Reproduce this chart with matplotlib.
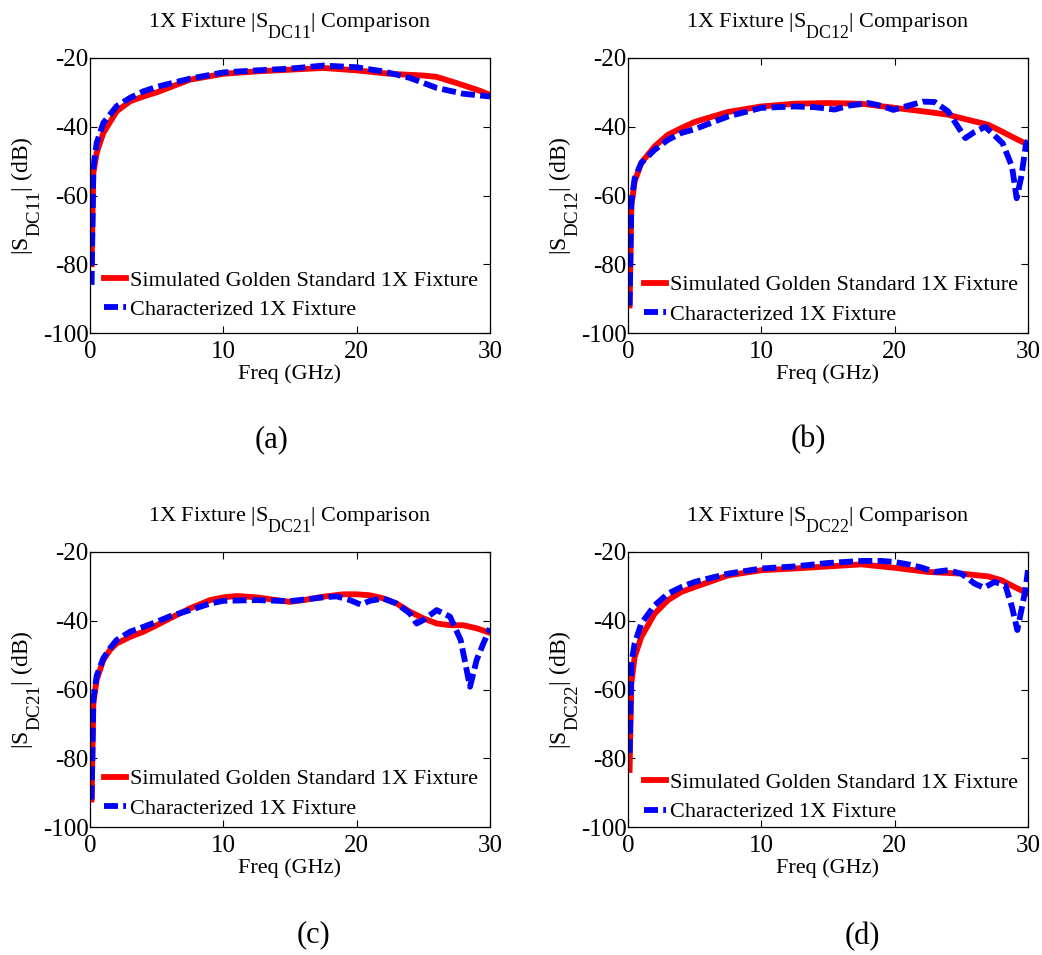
import numpy as np
import matplotlib
matplotlib.use("Agg")
import matplotlib.pyplot as plt
import matplotlib._mathtext as mtext

plt.rcParams.update({
    "font.family": "Liberation Serif",
    "mathtext.fontset": "custom",
    "mathtext.rm": "Liberation Serif",
    "mathtext.it": "Liberation Serif:italic",
    "font.size": 16,
    "axes.unicode_minus": False,
})
# subscripts in the reference are large and sit well below the baseline
mtext.SHRINK_FACTOR = 0.8
mtext.FontConstantsBase.sub1 = 1.1

# ---- data (Freq in GHz, magnitude in dB) ----
params = ["DC11", "DC12", "DC21", "DC22"]
panel_tags = ["(a)", "(b)", "(c)", "(d)"]

f_a_sim = [0.12, 0.25, 0.5, 1, 2, 3, 4, 5, 7.5, 10, 12.5, 15, 17.5, 20, 22.5, 25, 26, 27.5, 29, 30]
s11_sim = [-80, -53.5, -47.6, -41.8, -35.5, -32.6, -31.2, -30, -26.3, -24.6, -23.9, -23.4, -22.9,
           -23.6, -24.6, -25.1, -25.5, -27.3, -29.2, -30.7]
f_a_chr = [0.12, 0.25, 0.5, 1, 2, 3, 4, 5, 7.5, 10, 12.5, 15, 17.5, 20, 22, 24, 26, 28, 30]
s11_chr = [-86, -52, -44.7, -38.9, -34, -31.6, -29.7, -28.4, -26, -24.2, -23.6, -23.1, -22.2,
           -22.7, -23.9, -25.8, -28.7, -30.4, -31.2]

f_b_sim = [0.12, 0.25, 0.5, 1, 2, 3, 4, 5, 7.5, 10, 12.5, 15, 17.5, 20, 22.5, 24, 25, 27, 28, 29, 30]
s12_sim = [-92, -63, -55.9, -50.5, -45.7, -42.3, -40.4, -38.6, -35.7, -34.1, -33.3, -33.1, -33.3,
           -34.5, -35.7, -36.5, -37.5, -39.4, -41.3, -43.3, -45.2]
f_b_chr = [0.12, 0.25, 0.5, 1, 2, 3, 4, 5, 7.5, 10, 12.5, 14, 15.5, 16.5, 18, 19, 19.9, 21, 22.1,
           23, 24, 25.3, 26, 26.8, 28.1, 28.8, 29.15, 29.5, 29.85, 30]
s12_chr = [-92, -62, -55, -50.5, -46.7, -43.8, -41.8, -40.7, -37, -34.5, -34.1, -34.3, -35, -33.9,
           -33.1, -33.9, -35.1, -33.9, -32.7, -32.8, -35.5, -43.3, -41.5, -40, -44.8, -51.6, -60.8,
           -54.5, -45, -44]

f_c_sim = [0.12, 0.25, 0.5, 1, 1.5, 2, 3, 4, 5, 6, 7.5, 9, 10, 11, 12.5, 14, 15, 16, 17.5, 19, 20,
           21, 22, 23, 24, 25, 26, 27, 28, 29, 30]
s21_sim = [-92, -64, -57.2, -51.4, -48.5, -46.6, -44.7, -43.2, -41.3, -39.3, -36.4, -34, -33.2,
           -32.8, -33.2, -34, -34.5, -34, -33, -32.3, -32.3, -32.6, -33.5, -35, -37.4, -39.3, -40.8,
           -41.3, -41.3, -42.2, -43.5]
f_c_chr = [0.12, 0.25, 0.5, 1, 1.5, 2, 3, 4, 5, 6, 7.5, 9, 10, 12.5, 15, 17.5, 18.5, 19.5, 20.3,
           21, 22, 23, 24, 24.5, 25, 26, 27, 27.8, 28.5, 29, 29.5, 30]
s21_chr = [-92, -63, -56, -50.9, -48, -45.6, -43.2, -41.8, -40.3, -38.7, -36.9, -35, -34.2, -34,
           -34.3, -33.2, -32.9, -34, -35.3, -34.2, -33.5, -35, -37.9, -40.8, -39.8, -36.9, -38.8,
           -45.6, -59.2, -51.4, -46.6, -42.2]

f_d_sim = [0.12, 0.25, 0.5, 1, 2, 3, 4, 5, 7.5, 10, 12.5, 15, 17.5, 20, 22.5, 25, 27, 28, 29, 30]
s22_sim = [-83.4, -58.2, -50.5, -44.7, -37.9, -34, -31.6, -30.2, -26.8, -25.3, -24.8, -24.2, -23.6,
           -24.6, -25.8, -26.3, -27.1, -28.2, -30.2, -32.1]
f_d_chr = [0.12, 0.25, 0.5, 1, 2, 3, 4, 5, 7.5, 10, 12.5, 15, 17.5, 19, 20, 21, 22, 23, 24, 25,
           26, 26.7, 27.5, 28.3, 28.8, 29.2, 29.5, 29.8, 30]
s22_chr = [-78.5, -52.4, -46.6, -40.8, -35.5, -32.1, -30.2, -28.7, -26.3, -24.8, -24.2, -23.2,
           -22.6, -22.6, -22.9, -23.6, -24.5, -25.8, -25.3, -26.3, -29.2, -30.4, -28.7, -29.7, -36,
           -42.7, -37, -31.1, -25.3]

sim_series = [(f_a_sim, s11_sim), (f_b_sim, s12_sim), (f_c_sim, s21_sim), (f_d_sim, s22_sim)]
chr_series = [(f_a_chr, s11_chr), (f_b_chr, s12_chr), (f_c_chr, s21_chr), (f_d_chr, s22_chr)]

# ---- layout (pixels -> figure fractions) ----
W, H = 1042, 955
axes_px = [(90, 58), (628, 58), (90, 552), (628, 552)]   # left, top
ax_w, ax_h = 400, 275
tag_px = [(272, 440), (808, 440), (313, 935), (862, 937)]
leg_anchor = [(-0.01, -0.018), (-0.005, -0.035), (-0.01, -0.035), (-0.005, -0.048)]

fig = plt.figure(figsize=(W / 100, H / 100), dpi=100)

for i, p in enumerate(params):
    left, top = axes_px[i]
    ax = fig.add_axes([left / W, 1 - (top + ax_h) / H, ax_w / W, ax_h / H])
    fs, ys = sim_series[i]
    fc, yc = chr_series[i]
    ax.plot(fs, ys, "-", color="#ff0000", lw=4.2, label="Simulated Golden Standard 1X Fixture")
    ax.plot(fc, yc, color="#0000ff", lw=4.2, linestyle=(0, (2.4, 0.9)),
            label="Characterized 1X Fixture")

    ax.set_xlim(0, 30)
    ax.set_ylim(-100, -20)
    ax.set_xticks([0, 10, 20, 30])
    ax.set_yticks([-100, -80, -60, -40, -20])
    ax.tick_params(direction="in", top=True, right=True, length=5, width=0.8, labelsize=18)
    ax.tick_params(axis="x", pad=6)
    ax.tick_params(axis="y", pad=1)
    for s in ax.spines.values():
        s.set_linewidth(0.9)

    ax.set_title(r"1X Fixture $\mathregular{|S_{%s}|}$ Comparison" % p, fontsize=16, pad=22)
    ax.set_xlabel("Freq (GHz)", fontsize=16, labelpad=1)
    ax.set_ylabel(r"$\mathregular{|S_{%s}|}$ (dB)" % p, fontsize=17, labelpad=0)

    ax.legend(loc="lower left", bbox_to_anchor=leg_anchor[i], frameon=False, fontsize=16,
              handlelength=1.0, handletextpad=0.2, labelspacing=0.4, borderaxespad=0.4)

    tx, ty = tag_px[i]
    fig.text(tx / W, 1 - ty / H, panel_tags[i], fontsize=22, ha="center", va="center")

fig.savefig("out.png", dpi=100)
